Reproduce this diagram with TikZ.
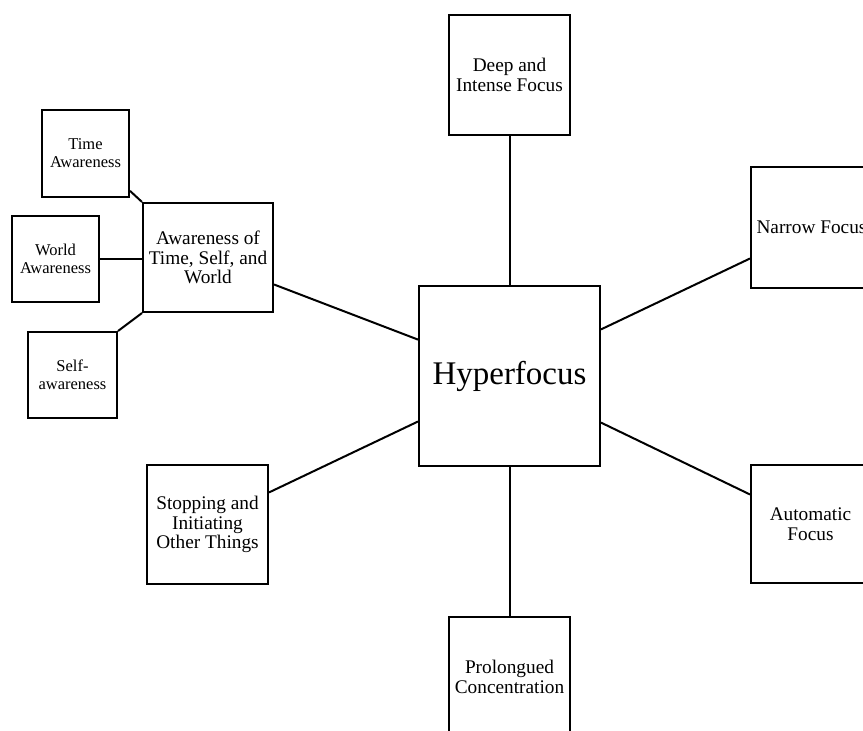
\documentclass[tikz,border=0pt]{standalone}
\usepackage{fontspec}
\setmainfont{Liberation Serif}
\usetikzlibrary{calc}
\tikzset{
  box/.style={draw=black, line width=2pt, fill=white, align=center, inner sep=0pt,
    font=\fontsize{19.3}{19.5}\selectfont},
  mainbox/.style={box, minimum width=121pt, minimum height=120pt},
  smallbox/.style={box, minimum width=87pt, minimum height=87pt,
    font=\fontsize{16.5}{18}\selectfont},
  link/.style={draw=black, line width=2pt}
}
\begin{document}
\begin{tikzpicture}[x=1pt,y=-1pt]
\useasboundingbox (0,0) rectangle (863,731);
\clip (0,0) rectangle (863,731);
\fill[white] (0,0) rectangle (863,731);

\node[box, minimum width=181pt, minimum height=180pt, font=\fontsize{33}{36}\selectfont] (hf) at (509.5,376) {Hyperfocus};
\node[mainbox] (deep) at (509.5,75) {Deep and\\Intense Focus};
\node[mainbox] (prol) at (509.5,677) {Prolongued\\Concentration};
\node[mainbox, minimum height=121pt] (narrow) at (811.5,227.5) {Narrow Focus};
\node[mainbox, minimum width=119pt, minimum height=118pt] (auto) at (810.5,524) {Automatic\\Focus};
\node[mainbox, minimum height=119pt] (stop) at (207.5,524.5) {Stopping and\\Initiating\\Other Things};
\node[box, minimum width=130pt, minimum height=109pt] (aware) at (208,257.5) {Awareness of\\Time, Self, and\\World};
\node[smallbox] (time) at (85.5,153.5) {Time\\Awareness};
\node[smallbox, minimum height=86pt] (world) at (55.5,259) {World\\Awareness};
\node[smallbox, minimum width=89pt, minimum height=86pt] (self) at (72.5,375) {Self-\\awareness};

\draw[link] (deep.south) -- (hf.north);
\draw[link] (hf.south) -- (prol.north);
\draw[link] ($(aware.north east)!0.743!(aware.south east)$) -- ($(hf.north west)!0.3!(hf.south west)$);
\draw[link] ($(stop.north east)!0.235!(stop.south east)$) -- ($(hf.north west)!0.75!(hf.south west)$);
\draw[link] ($(hf.north east)!0.244!(hf.south east)$) -- ($(narrow.north west)!0.752!(narrow.south west)$);
\draw[link] ($(hf.north east)!0.756!(hf.south east)$) -- ($(auto.north west)!0.254!(auto.south west)$);
\draw[link] ($(time.north east)!0.92!(time.south east)$) -- (aware.north west);
\draw[link] (world.east) -- (aware.west |- world.east);
\draw[link] (self.north east) -- (aware.south west);
\end{tikzpicture}
\end{document}
